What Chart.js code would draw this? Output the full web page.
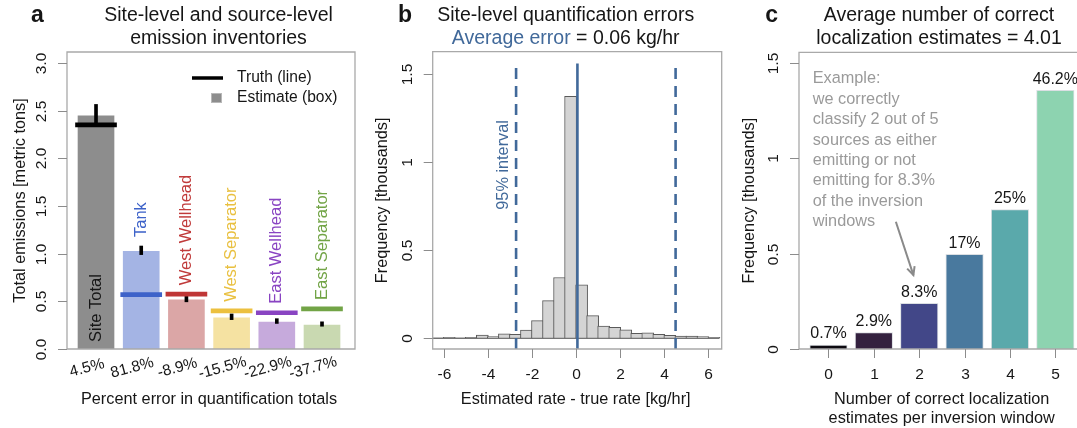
<!DOCTYPE html>
<html>
<head>
<meta charset="utf-8">
<script src="https://cdn.jsdelivr.net/npm/chart.js@4.4.1/dist/chart.umd.min.js"></script>
<style>
  html, body { margin: 0; padding: 0; background: #fff; overflow: hidden; }
  #wrap { position: relative; width: 1077px; height: 428px; }
  canvas { position: absolute; top: 0; }
</style>
</head>
<body>
<div id="wrap">
  <canvas id="chartA" width="362" height="428" style="left:0px"></canvas>
  <canvas id="chartB" width="366" height="428" style="left:362px"></canvas>
  <canvas id="chartC" width="349" height="428" style="left:728px"></canvas>
</div>
<script>
// ==================== PANEL A DATA ====================
const sourceNames = ['Site Total', 'Tank', 'West Wellhead', 'West Separator', 'East Wellhead', 'East Separator'];
const sourceIndex = [0, 1, 2, 3, 4, 5];
const estimateTons = [2.455, 1.035, 0.525, 0.338, 0.293, 0.262];
const estimateErr = [0.11, 0.045, 0.03, 0.03, 0.025, 0.023];
const truthTons = [2.35, 0.57, 0.575, 0.40, 0.38, 0.42];
const percentErrorLabels = ['4.5%', '81.8%', '-8.9%', '-15.5%', '-22.9%', '-37.7%'];
const emissionTicks = [0, 0.5, 1, 1.5, 2, 2.5, 3];
const emissionTickLabels = ['0.0', '0.5', '1.0', '1.5', '2.0', '2.5', '3.0'];

// ==================== PANEL B DATA ====================
const binCenters = [-6.25, -5.75, -5.25, -4.75, -4.25, -3.75, -3.25, -2.75, -2.25, -1.75, -1.25, -0.75, -0.25,
                    0.25, 0.75, 1.25, 1.75, 2.25, 2.75, 3.25, 3.75, 4.25, 4.75, 5.25, 5.75, 6.25];
const binFreq = [0.002, 0.005, 0.002, 0.005, 0.019, 0.010, 0.025, 0.023, 0.046, 0.100, 0.214, 0.345, 1.373,
                 0.304, 0.129, 0.069, 0.063, 0.048, 0.028, 0.031, 0.023, 0.017, 0.013, 0.013, 0.010, 0.006];
const histEdges = [-6.5, 6.5];
const meanError = 0.06;
const intervalBounds = [-2.72, 4.51];
const refLineTop = 1.56;
const errorTicks = [-6, -4, -2, 0, 2, 4, 6];
const freqTicks = [0, 0.5, 1, 1.5];
const freqTickLabels = ['0', '0.5', '1', '1.5'];

// ==================== PANEL C DATA ====================
const correctCounts = [0, 1, 2, 3, 4, 5];
const countFreq = [0.021, 0.086, 0.240, 0.497, 0.731, 1.358];
const countPctLabels = ['0.7%', '2.9%', '8.3%', '17%', '25%', '46.2%'];
const exampleLines = ['Example:', 'we correctly', 'classify 2 out of 5', 'sources as either',
                      'emitting or not', 'emitting for 8.3%', 'of the inversion', 'windows'];
const arrowFrom = { x: 1.485, y: 0.668 };
const arrowTo = { x: 1.872, y: 0.388 };

// ==================== STYLES ====================
const FONT_FAMILY = '"Liberation Sans", Arial, Helvetica, sans-serif';
const TEXT = '#161616';
const FRAME = '#a9a9a9';
const TICK = '#8c8c8c';
const BLUE = '#41699a';
const TICK_SIZE = 15.5, AXIS_SIZE = 16.3, TITLE_SIZE = 19.5, LETTER_SIZE = 23;

const estimateColors = ['#8d8d8d', '#a4b4e4', '#dba6a6', '#f5e2a2', '#c6aadc', '#c9d9b1'];
const truthColors = ['#000000', '#3d62c9', '#bf3636', '#ecc03f', '#8944c2', '#72a446'];
const labelColors = ['#000000', '#3d62c9', '#c03a3a', '#e9c040', '#8944c2', '#72a446'];
const countColors = ['#0d0a10', '#34213f', '#424788', '#49799e', '#5aa9ab', '#8dd3b0'];

function txt(ctx, s, x, y, size, opts = {}) {
    ctx.save();
    ctx.translate(x, y);
    if (opts.rot) ctx.rotate(opts.rot * Math.PI / 180);
    ctx.font = (opts.bold ? 'bold ' : '') + size + 'px ' + FONT_FAMILY;
    ctx.fillStyle = opts.color || TEXT;
    ctx.textAlign = opts.align || 'center';
    ctx.textBaseline = opts.base || 'middle';
    ctx.fillText(s, 0, 0);
    ctx.restore();
}

function frame(ctx, a, openRight) {
    ctx.save();
    ctx.strokeStyle = FRAME;
    ctx.lineWidth = 1.3;
    ctx.beginPath();
    if (openRight) {
        ctx.moveTo(a.right + 2, a.top); ctx.lineTo(a.left, a.top);
        ctx.lineTo(a.left, a.bottom); ctx.lineTo(a.right + 2, a.bottom);
    } else {
        ctx.rect(a.left, a.top, a.right - a.left, a.bottom - a.top);
    }
    ctx.stroke();
    ctx.restore();
}

function yAxis(chart, values, labels, labelOffset) {
    const ctx = chart.ctx, a = chart.chartArea, ys = chart.scales.y;
    ctx.save();
    ctx.strokeStyle = TICK;
    ctx.lineWidth = 1;
    values.forEach((v, i) => {
        const p = Math.round(ys.getPixelForValue(v)) + 0.5;
        ctx.beginPath(); ctx.moveTo(a.left, p); ctx.lineTo(a.left - 9, p); ctx.stroke();
        txt(ctx, labels[i], a.left - labelOffset, p, TICK_SIZE, { rot: -90 });
    });
    ctx.restore();
}

function xAxis(chart, values, labels) {
    const ctx = chart.ctx, a = chart.chartArea, xs = chart.scales.x;
    ctx.save();
    ctx.strokeStyle = TICK;
    ctx.lineWidth = 1;
    values.forEach((v, i) => {
        const p = Math.round(xs.getPixelForValue(v)) + 0.5;
        ctx.beginPath(); ctx.moveTo(p, a.bottom); ctx.lineTo(p, a.bottom + 9); ctx.stroke();
        txt(ctx, labels[i], p, a.bottom + 26, TICK_SIZE);
    });
    ctx.restore();
}

const baseOptions = (padding, xRange, yRange) => ({
    responsive: false,
    animation: false,
    layout: { padding },
    plugins: { legend: { display: false }, tooltip: { enabled: false }, title: { display: false } },
    scales: {
        x: { type: 'linear', display: false, offset: false, min: xRange[0], max: xRange[1] },
        y: { type: 'linear', display: false, min: yRange[0], max: yRange[1] }
    }
});

// ==================== PANEL A ====================
const panelA = {
    id: 'panelA',
    afterDraw(chart) {
        const ctx = chart.ctx, a = chart.chartArea, xs = chart.scales.x, ys = chart.scales.y;
        frame(ctx, a, false);
        yAxis(chart, emissionTicks, emissionTickLabels, 25.5);
        txt(ctx, 'a', a.left - 29.5, 15.5, LETTER_SIZE, { bold: true });
        txt(ctx, 'Site-level and source-level', a.left + 151.5, 15.5, TITLE_SIZE);
        txt(ctx, 'emission inventories', a.left + 151.5, 38.5, TITLE_SIZE);
        txt(ctx, 'Total emissions [metric tons]', a.left - 46.5, (a.top + a.bottom) / 2, AXIS_SIZE, { rot: -90 });
        txt(ctx, 'Percent error in quantification totals', a.left + 142, a.bottom + 51, AXIS_SIZE);

        sourceIndex.forEach((i) => {
            const px = xs.getPixelForValue(i);
            txt(ctx, percentErrorLabels[i], px - 9, a.bottom + 19, TICK_SIZE, { rot: -15 });
            if (i === 0) {
                txt(ctx, sourceNames[i], px, a.bottom - 7, 16.5, { rot: -90, align: 'left' });
            } else {
                const top = Math.max(truthTons[i], estimateTons[i] + estimateErr[i]);
                txt(ctx, sourceNames[i], px, ys.getPixelForValue(top) - 9, 16.5,
                    { rot: -90, align: 'left', color: labelColors[i] });
            }
        });

        // legend
        ctx.save();
        ctx.strokeStyle = '#000';
        ctx.lineWidth = 3.5;
        ctx.beginPath(); ctx.moveTo(a.left + 125, a.top + 26); ctx.lineTo(a.left + 156, a.top + 26); ctx.stroke();
        ctx.fillStyle = estimateColors[0];
        ctx.fillRect(a.left + 144, a.top + 41, 11, 10);
        ctx.strokeStyle = '#b8b8b8'; ctx.lineWidth = 1;
        ctx.strokeRect(a.left + 144.5, a.top + 41.5, 10, 9);
        ctx.restore();
        txt(ctx, 'Truth (line)', a.left + 170, a.top + 26, 15.6, { align: 'left' });
        txt(ctx, 'Estimate (box)', a.left + 170, a.top + 46, 15.6, { align: 'left' });
    }
};

new Chart(document.getElementById('chartA'), {
    type: 'bar',
    data: {
        datasets: [
            {
                label: 'Truth (line)',
                data: sourceIndex.map(i => ({ x: i, y: [truthTons[i] - 0.021, truthTons[i] + 0.021] })),
                backgroundColor: truthColors, barThickness: 41, grouped: false, order: 1
            },
            {
                label: 'Error',
                data: sourceIndex.map(i => ({ x: i, y: [estimateTons[i] - estimateErr[i], estimateTons[i] + estimateErr[i]] })),
                backgroundColor: '#000', barThickness: 3, grouped: false, order: 2
            },
            {
                label: 'Estimate (box)',
                data: sourceIndex.map(i => ({ x: i, y: estimateTons[i] })),
                backgroundColor: estimateColors, borderColor: 'rgba(255,255,255,0.6)', borderWidth: 1,
                barThickness: 38, grouped: false, order: 3
            }
        ]
    },
    options: baseOptions({ left: 67, right: 7, top: 52, bottom: 79 }, [-0.642, 5.73], [0, 3.115]),
    plugins: [panelA]
});

// ==================== PANEL B ====================
const panelB = {
    id: 'panelB',
    afterDraw(chart) {
        const ctx = chart.ctx, a = chart.chartArea, xs = chart.scales.x;
        frame(ctx, a, false);
        yAxis(chart, freqTicks, freqTickLabels, 24.5);
        xAxis(chart, errorTicks, errorTicks.map(String));
        txt(ctx, 'b', a.left - 27.7, 15.5, LETTER_SIZE, { bold: true });
        txt(ctx, 'Site-level quantification errors', a.left + 133, 15.5, TITLE_SIZE);

        ctx.save();
        ctx.font = TITLE_SIZE + 'px ' + FONT_FAMILY;
        const p1 = 'Average error', p2 = ' = 0.06 kg/hr';
        const w1 = ctx.measureText(p1).width, w2 = ctx.measureText(p2).width;
        ctx.restore();
        const x0 = a.left + 133 - (w1 + w2) / 2;
        txt(ctx, p1, x0, 38.5, TITLE_SIZE, { align: 'left', color: BLUE });
        txt(ctx, p2, x0 + w1, 38.5, TITLE_SIZE, { align: 'left' });

        txt(ctx, 'Frequency [thousands]', a.left - 49.7, (a.top + a.bottom) / 2, AXIS_SIZE, { rot: -90 });
        txt(ctx, 'Estimated rate - true rate [kg/hr]', a.left + 143, a.bottom + 51, AXIS_SIZE);
        txt(ctx, '95% interval', xs.getPixelForValue(intervalBounds[0]) - 12.4, a.top + 158, 16.3,
            { rot: -90, align: 'left', color: BLUE });
    }
};

const vline = (x, dash) => ({
    type: 'line',
    data: [{ x: x, y: -0.0607 }, { x: x, y: refLineTop }],
    borderColor: BLUE, borderWidth: 2.6, borderDash: dash, pointRadius: 0, order: 1
});

new Chart(document.getElementById('chartB'), {
    type: 'bar',
    data: {
        datasets: [
            vline(meanError, []),
            vline(intervalBounds[0], [11, 7]),
            vline(intervalBounds[1], [11, 7]),
            {
                type: 'line',
                data: histEdges.map(x => ({ x: x, y: 0 })),
                borderColor: '#555', borderWidth: 1, pointRadius: 0, order: 3
            },
            {
                type: 'bar',
                label: 'Frequency',
                data: binCenters.map((c, i) => ({ x: c, y: binFreq[i] })),
                backgroundColor: '#d4d4d4', borderColor: '#5a5a5a', borderWidth: 1,
                barThickness: 12, order: 4
            }
        ]
    },
    options: baseOptions({ left: 70.7, right: 6.3, top: 51.7, bottom: 79 }, [-6.5, 6.6], [-0.0607, 1.627]),
    plugins: [panelB]
});

// ==================== PANEL C ====================
const panelC = {
    id: 'panelC',
    afterDraw(chart) {
        const ctx = chart.ctx, a = chart.chartArea, xs = chart.scales.x, ys = chart.scales.y;
        frame(ctx, a, true);
        yAxis(chart, freqTicks, freqTickLabels, 25);
        xAxis(chart, correctCounts, correctCounts.map(String));
        txt(ctx, 'c', a.left - 27.3, 15.5, LETTER_SIZE, { bold: true });
        txt(ctx, 'Average number of correct', a.left + 140, 15.5, TITLE_SIZE);
        txt(ctx, 'localization estimates = 4.01', a.left + 140, 38.5, TITLE_SIZE);
        txt(ctx, 'Frequency [thousands]', a.left - 49, (a.top + a.bottom) / 2, AXIS_SIZE, { rot: -90 });
        txt(ctx, 'Number of correct localization', a.left + 142.7, a.bottom + 51, AXIS_SIZE);
        txt(ctx, 'estimates per inversion window', a.left + 142.7, a.bottom + 69.5, AXIS_SIZE);

        correctCounts.forEach((c, i) => {
            txt(ctx, countPctLabels[i], xs.getPixelForValue(c), ys.getPixelForValue(countFreq[i]) - 11, 16);
        });

        exampleLines.forEach((s, i) => {
            txt(ctx, s, a.left + 13.7, a.top + 26.7 + i * 20.4, 16.3, { align: 'left', color: '#9a9a9a' });
        });

        // arrow
        const fx = xs.getPixelForValue(arrowFrom.x), fy = ys.getPixelForValue(arrowFrom.y);
        const tx = xs.getPixelForValue(arrowTo.x), ty = ys.getPixelForValue(arrowTo.y);
        const ang = Math.atan2(ty - fy, tx - fx);
        ctx.save();
        ctx.strokeStyle = '#8a8a8a';
        ctx.lineWidth = 2;
        ctx.beginPath(); ctx.moveTo(fx, fy); ctx.lineTo(tx, ty); ctx.stroke();
        ctx.beginPath();
        ctx.moveTo(tx - 9 * Math.cos(ang - 0.45), ty - 9 * Math.sin(ang - 0.45));
        ctx.lineTo(tx, ty);
        ctx.lineTo(tx - 9 * Math.cos(ang + 0.45), ty - 9 * Math.sin(ang + 0.45));
        ctx.stroke();
        ctx.restore();
    }
};

new Chart(document.getElementById('chartC'), {
    type: 'bar',
    data: {
        datasets: [{
            label: 'Frequency',
            data: correctCounts.map((c, i) => ({ x: c, y: countFreq[i] })),
            backgroundColor: countColors, borderColor: 'rgba(210,215,220,0.8)', borderWidth: 1,
            barThickness: 37.5
        }]
    },
    options: baseOptions({ left: 71, right: 0, top: 52.3, bottom: 79 }, [-0.65, 5.478], [0, 1.557]),
    plugins: [panelC]
});
</script>
</body>
</html>
